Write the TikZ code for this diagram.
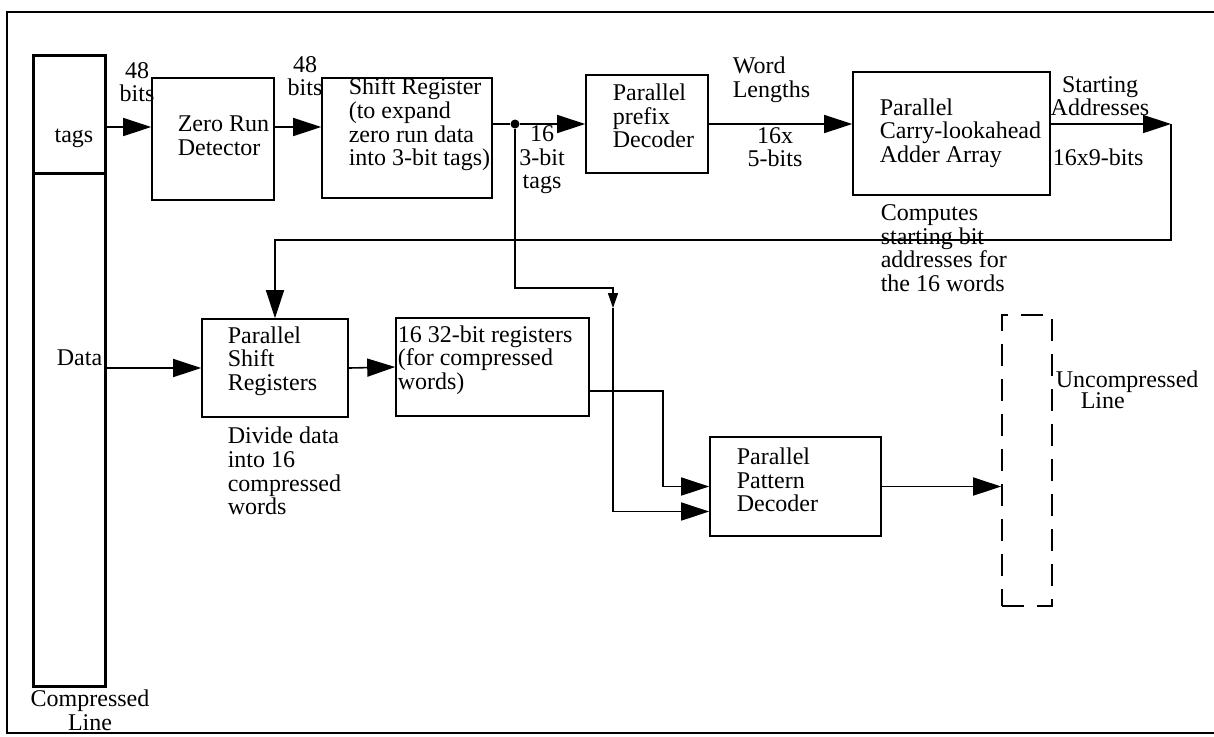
\documentclass[tikz,border=0pt]{standalone}
\usepackage{fontspec}
\setmainfont{Liberation Serif}
\usetikzlibrary{arrows.meta}

\begin{document}
\begin{tikzpicture}[x=0.5pt, y=-0.5pt, line width=0.8pt,
      block/.style={draw, inner sep=0pt}, lineblock/.style={draw, line
      width=1.5pt, inner sep=0pt, minimum width=36pt},
      txt/.style={align=left, inner sep=0pt,
      font=\fontsize{12pt}{11.8pt}\selectfont},
      tight/.style={font=\fontsize{12pt}{10.5pt}\selectfont},
      arr/.style={-{Triangle[length=14pt, width=9pt]}},
      smallarr/.style={-{Triangle[length=7.5pt, width=5pt]}},
      tapdot/.style={circle, fill, inner sep=0pt, minimum size=4.5pt} ]

    \useasboundingbox (0,0) rectangle (1214,736);

    % Outer frame
    \draw (1214,12) -- (7,12) -- (7,733) -- (1214,733);

    % Compressed line
    \node[lineblock, minimum height=59pt] (tagbox) at (69,114) {};
    \node[lineblock, minimum height=256.5pt] (datbox) at (69,429.5) {};
    \node[txt] at (74,138) {tags}; \node[txt, anchor=east] at (103,358) {Data};
    \node[txt, align=center] at (90,710) {Compressed\\Line};

    % Top row of blocks
    \node[block, minimum width=61pt, minimum height=61pt] (zrd) at (213,139) {};
    \node[block, minimum width=85pt, minimum height=60pt] (shreg) at (407,138) {};
    \node[block, minimum width=61pt, minimum height=49pt] (ppd) at (647,124) {};
    \node[block, minimum width=98.5pt, minimum height=61.5pt] (adder) at
    (951.5,133.5) {};

    % Lower blocks
    \node[block, minimum width=73pt, minimum height=49pt] (psr) at (275,368) {};
    \node[block, minimum width=96.5pt, minimum height=49pt] (regs) at
    (492.5,367) {};
    \node[block, minimum width=85.5pt, minimum height=49.5pt] (ppat) at
    (795.5,486.5) {};
    \node[draw, dash pattern=on 11pt off 6.5pt, inner sep=0pt, minimum
    width=25pt, minimum height=145.5pt] (uncomp) at (1027,460.5) {};

    % Labels for the blocks
    \node[txt, anchor=west] at (177,136) {Zero Run\\Detector};
    \node[txt, anchor=west] at (348,124.5) {Shift Register\\(to expand\\zero
    run data\\into 3-bit tags)};
    \node[txt, anchor=west] at (612,116) {Parallel\\prefix\\Decoder};
    \node[txt, anchor=west] at (879,133) {Parallel\\Carry-lookahead\\Adder
    Array};
    \node[txt, anchor=west] at (227,361) {Parallel\\Shift\\Registers};
    \node[txt, anchor=west] at (397,360) {16 32-bit registers\\(for
    compressed\\words)};
    \node[txt, anchor=west] at (736,480) {Parallel\\Pattern\\Decoder};
    \node[txt, tight, anchor=west] at (1055,390)
    {Uncompressed\\\hspace*{12.5pt}Line};

    % Notes beside the blocks
    \node[txt, align=center] at (137,82) {48\\bits};
    \node[txt, align=center] at (305,76) {48\\bits};
    \node[txt, align=center] at (542,160) {16\\3-bit\\tags};
    \node[txt, anchor=west] at (732,80) {Word\\Lengths};
    \node[txt, align=center] at (775,147) {16x\\5-bits};
    \node[txt, align=center] at (1100,96) {Starting\\Addresses};
    \node[txt, anchor=west] at (1052,157) {16x9-bits};
    \node[txt, anchor=west] at (880,248) {Computes\\starting bit\\addresses
    for\\the 16 words};
    \node[txt, anchor=west] at (227,471) {Divide data\\into
    16\\compressed\\words};

    % Tag path
    \coordinate (zin) at ([yshift=6pt]zrd.west);
    \draw[arr] (tagbox.east |- zin) -- (zin);
    \draw[arr] ([yshift=6pt]zrd.east) -- ([yshift=6pt]zrd.east -| shreg.west);
    \node[tapdot] (tap) at (515,124) {};
    \draw (shreg.east |- tap) -- (tap); \draw[arr] (tap) -- (ppd.west);
    \draw[arr] (ppd.east) -- (ppd.east -| adder.west);

    % Starting addresses back to the shift registers
    \coordinate (ret) at (1171,124); \coordinate (back) at (1171,240);
    \draw[arr] (adder.east |- ret) -- (ret);
    \draw[arr] (ret) -- (back) -| (psr.north);

    % Data path
    \draw[arr] (datbox.east |- psr.west) -- (psr.west);
    \draw[arr] (psr.east) -- (regs.west);
    \draw[arr] ([yshift=-12pt]regs.east) -- ++(73,0) |- (ppat.west);

    % Tags down to the pattern decoder
    \coordinate (jog) at (613,288); \coordinate (mid) at (613,308);
    \draw[smallarr] (tap) |- (jog) -- (mid);
    \draw[arr] (mid) |- ([yshift=-12.5pt]ppat.west);

    % Output
    \draw[arr] (ppat.east) -- (ppat.east -| uncomp.west);

\end{tikzpicture}
\end{document}
